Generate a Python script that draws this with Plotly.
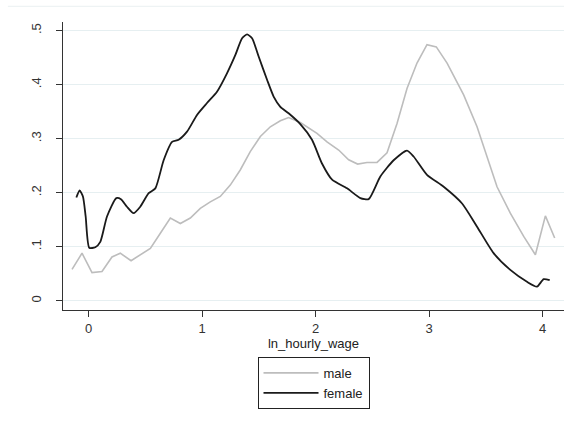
import plotly.graph_objects as go

# ---- data ----
female_x = [-0.108, -0.079, -0.05, -0.026, 0.006, 0.059, 0.103, 0.162, 0.244, 0.285, 0.338, 0.396,
            0.455, 0.529, 0.588, 0.661, 0.735, 0.793, 0.867, 0.955, 1.043, 1.131, 1.219, 1.293,
            1.352, 1.396, 1.44, 1.498, 1.572, 1.63, 1.689, 1.762, 1.865, 1.968, 2.056, 2.145,
            2.277, 2.394, 2.467, 2.57, 2.687, 2.805, 2.863, 2.981, 3.128, 3.29, 3.422, 3.568,
            3.715, 3.862, 3.95, 4.009, 4.062]
female_y = [0.191, 0.204, 0.193, 0.156, 0.098, 0.099, 0.109, 0.156, 0.19, 0.188, 0.174, 0.162,
            0.174, 0.199, 0.208, 0.26, 0.294, 0.298, 0.313, 0.344, 0.366, 0.387, 0.421, 0.455,
            0.486, 0.493, 0.486, 0.452, 0.409, 0.378, 0.359, 0.347, 0.327, 0.298, 0.254, 0.224,
            0.208, 0.19, 0.188, 0.23, 0.26, 0.278, 0.267, 0.233, 0.211, 0.18, 0.137, 0.088,
            0.057, 0.035, 0.026, 0.04, 0.038]

male_x = [-0.146, -0.058, 0.03, 0.118, 0.206, 0.279, 0.374, 0.455, 0.544, 0.632, 0.72, 0.808,
          0.896, 0.984, 1.072, 1.16, 1.248, 1.336, 1.424, 1.513, 1.601, 1.689, 1.762, 1.865,
          2.012, 2.1, 2.203, 2.291, 2.37, 2.452, 2.541, 2.629, 2.717, 2.805, 2.893, 2.981,
          3.063, 3.158, 3.304, 3.422, 3.51, 3.598, 3.715, 3.833, 3.936, 4.024, 4.106]
male_y = [0.058, 0.088, 0.052, 0.054, 0.081, 0.088, 0.074, 0.085, 0.097, 0.125, 0.153, 0.143,
          0.153, 0.171, 0.183, 0.193, 0.214, 0.242, 0.276, 0.304, 0.322, 0.333, 0.339, 0.33,
          0.31, 0.294, 0.279, 0.261, 0.253, 0.256, 0.256, 0.274, 0.328, 0.393, 0.44, 0.474,
          0.47, 0.44, 0.381, 0.322, 0.267, 0.211, 0.162, 0.119, 0.085, 0.157, 0.116]

y_tickvals = [0, 0.1, 0.2, 0.3, 0.4, 0.5]
y_ticktext = ["0", ".1", ".2", ".3", ".4", ".5"]
x_tickvals = [0, 1, 2, 3, 4]
x_ticktext = ["0", "1", "2", "3", "4"]

FONT = "Liberation Sans, Arial, sans-serif"

fig = go.Figure()
fig.add_trace(go.Scatter(x=male_x, y=male_y, mode="lines", name="male",
                         line=dict(color="#bdbdbd", width=1.6)))
fig.add_trace(go.Scatter(x=female_x, y=female_y, mode="lines", name="female",
                         line=dict(color="#1a1a1a", width=1.8, shape="spline", smoothing=0.6)))

fig.update_layout(
    width=574, height=421,
    margin=dict(l=63, r=10, t=22, b=111),
    paper_bgcolor="white", plot_bgcolor="white",
    font=dict(family=FONT, size=12, color="#222"),
    showlegend=True,
    legend=dict(orientation="v", x=0.5, xanchor="center", y=-0.163, yanchor="top",
                bordercolor="#222", borderwidth=1, bgcolor="white",
                font=dict(size=13, color="#222"), itemwidth=55,
                tracegroupgap=0),
    xaxis=dict(range=[-0.2256, 4.188], tickvals=x_tickvals, ticktext=x_ticktext,
               showline=True, linecolor="#333", linewidth=1.2,
               ticks="outside", ticklen=6, tickcolor="#333",
               showgrid=False, zeroline=False,
               tickfont=dict(size=13, color="#333"),
               title=dict(text="ln_hourly_wage", font=dict(size=13, color="#222"), standoff=0)),
    yaxis=dict(range=[-0.0172, 0.516], tickvals=y_tickvals, ticktext=y_ticktext,
               showline=True, linecolor="#333", linewidth=1.2,
               ticks="outside", ticklen=6, tickcolor="#333", tickangle=-90,
               ticklabelstandoff=10,
               showgrid=True, gridcolor="#e6eff1", gridwidth=1.2, zeroline=False,
               tickfont=dict(size=13, color="#333")),
)

# faint outer plot-region border line at top
fig.add_shape(type="line", xref="paper", yref="paper", x0=-0.11, x1=1.0,
              y0=1.054, y1=1.054, line=dict(color="#eef3f4", width=1.2))

fig.write_html("out.html", config={"displayModeBar": False},
               post_script="document.body.style.margin='0';document.body.style.padding='0';")
